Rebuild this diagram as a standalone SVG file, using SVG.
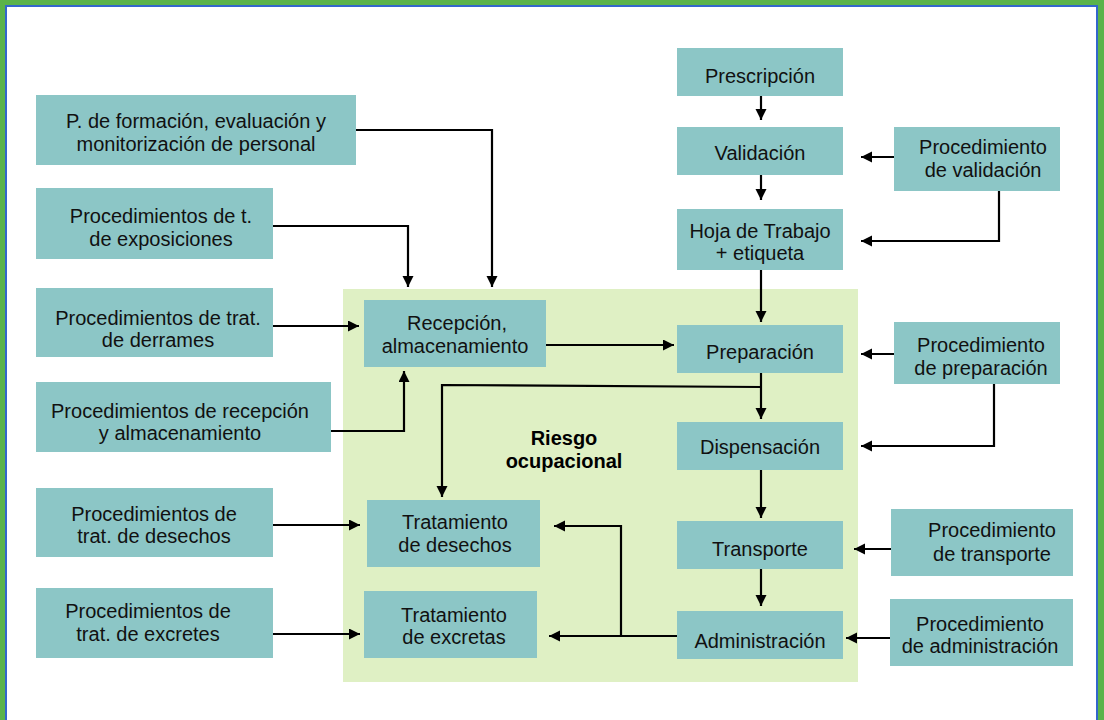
<svg xmlns="http://www.w3.org/2000/svg" width="1104" height="720" viewBox="0 0 1104 720">
<defs>
<marker id="ah" markerWidth="12" markerHeight="12" refX="11" refY="5.5" orient="auto" markerUnits="userSpaceOnUse">
<path d="M0,0 L11,5.5 L0,11 Z" fill="#000"/>
</marker>
<style>
.box{fill:#8cc6c6;}
.t{font-family:"Liberation Sans",Arial,sans-serif;font-size:20px;fill:#111;text-anchor:middle;}
.b{font-family:"Liberation Sans",Arial,sans-serif;font-size:20px;font-weight:bold;fill:#000;text-anchor:middle;}
.c{fill:none;stroke:#000;stroke-width:2.2;marker-end:url(#ah);}
</style>
</defs>
<rect x="0" y="0" width="1104" height="720" fill="#5ab34a"/>
<rect x="6" y="6" width="1091" height="730" fill="#fff" stroke="#3366cc" stroke-width="2"/>
<rect x="343" y="289" width="515" height="393" fill="#dff0c4"/>
<text class="b" x="564" y="445">Riesgo</text>
<text class="b" x="564" y="468">ocupacional</text>

<g id="n-formacion"><rect class="box" x="36" y="95" width="320" height="70"/><text class="t" x="196" y="128">P. de formación, evaluación y</text><text class="t" x="196" y="151">monitorización de personal</text></g>
<g id="n-exposiciones"><rect class="box" x="36" y="188" width="237" height="71"/><text class="t" x="161" y="223">Procedimientos de t.</text><text class="t" x="161" y="246">de exposiciones</text></g>
<g id="n-derrames"><rect class="box" x="36" y="288" width="237" height="69"/><text class="t" x="158" y="325">Procedimientos de trat.</text><text class="t" x="158" y="347">de derrames</text></g>
<g id="n-recepcion-proc"><rect class="box" x="36" y="382" width="295" height="70"/><text class="t" x="180" y="418">Procedimientos de recepción</text><text class="t" x="180" y="440">y almacenamiento</text></g>
<g id="n-desechos-proc"><rect class="box" x="36" y="488" width="237" height="69"/><text class="t" x="154" y="521">Procedimientos de</text><text class="t" x="154" y="543">trat. de desechos</text></g>
<g id="n-excretes-proc"><rect class="box" x="36" y="588" width="237" height="70"/><text class="t" x="148" y="618">Procedimientos de</text><text class="t" x="148" y="641">trat. de excretes</text></g>

<g id="n-recepcion"><rect class="box" x="364" y="300" width="182" height="67"/><text class="t" x="457" y="330">Recepción,</text><text class="t" x="455" y="353">almacenamiento</text></g>
<g id="n-trat-desechos"><rect class="box" x="367" y="500" width="173" height="67"/><text class="t" x="455" y="529">Tratamiento</text><text class="t" x="455" y="552">de desechos</text></g>
<g id="n-trat-excretas"><rect class="box" x="364" y="591" width="173" height="67"/><text class="t" x="454" y="622">Tratamiento</text><text class="t" x="454" y="644">de excretas</text></g>

<g id="n-prescripcion"><rect class="box" x="677" y="48" width="166" height="48"/><text class="t" x="760" y="83">Prescripción</text></g>
<g id="n-validacion"><rect class="box" x="677" y="127" width="166" height="48"/><text class="t" x="760" y="160">Validación</text></g>
<g id="n-hoja"><rect class="box" x="677" y="209" width="166" height="61"/><text class="t" x="760" y="238">Hoja de Trabajo</text><text class="t" x="760" y="260">+ etiqueta</text></g>
<g id="n-preparacion"><rect class="box" x="677" y="325" width="166" height="48"/><text class="t" x="760" y="359">Preparación</text></g>
<g id="n-dispensacion"><rect class="box" x="677" y="422" width="166" height="48"/><text class="t" x="760" y="454">Dispensación</text></g>
<g id="n-transporte"><rect class="box" x="677" y="521" width="166" height="48"/><text class="t" x="760" y="556">Transporte</text></g>
<g id="n-administracion"><rect class="box" x="677" y="611" width="166" height="48"/><text class="t" x="760" y="648">Administración</text></g>

<g id="n-proc-validacion"><rect class="box" x="894" y="127" width="166" height="64"/><text class="t" x="983" y="154">Procedimiento</text><text class="t" x="983" y="177">de validación</text></g>
<g id="n-proc-preparacion"><rect class="box" x="894" y="322" width="166" height="62"/><text class="t" x="981" y="352">Procedimiento</text><text class="t" x="981" y="375">de preparación</text></g>
<g id="n-proc-transporte"><rect class="box" x="891" y="509" width="182" height="67"/><text class="t" x="992" y="537">Procedimiento</text><text class="t" x="992" y="561">de transporte</text></g>
<g id="n-proc-administracion"><rect class="box" x="890" y="599" width="183" height="67"/><text class="t" x="980" y="631">Procedimiento</text><text class="t" x="980" y="653">de administración</text></g>

<g id="connectors">
<path class="c" d="M356,130 H492 V287"/>
<path class="c" d="M273,226 H408 V287"/>
<path class="c" d="M273,326 H359"/>
<path class="c" d="M331,431 H404 V371"/>
<path class="c" d="M546,345 H674"/>
<path class="c" d="M273,525 H360"/>
<path class="c" d="M273,634 H360"/>
<path class="c" d="M761,96 V120"/>
<path class="c" d="M761,175 V200"/>
<path class="c" d="M761,270 V322"/>
<path class="c" d="M761,373 V419"/>
<path class="c" d="M761,387 L442,385 V497"/>
<path class="c" d="M761,470 V518"/>
<path class="c" d="M761,569 V606"/>
<path class="c" d="M677,636 H549"/>
<path class="c" d="M621,636 V526 H554"/>
<path class="c" d="M894,157 H861"/>
<path class="c" d="M999,191 V241 H861"/>
<path class="c" d="M894,354 H861"/>
<path class="c" d="M994,384 V446 H861"/>
<path class="c" d="M891,549 H854"/>
<path class="c" d="M890,638 H846"/>
</g>
</svg>
